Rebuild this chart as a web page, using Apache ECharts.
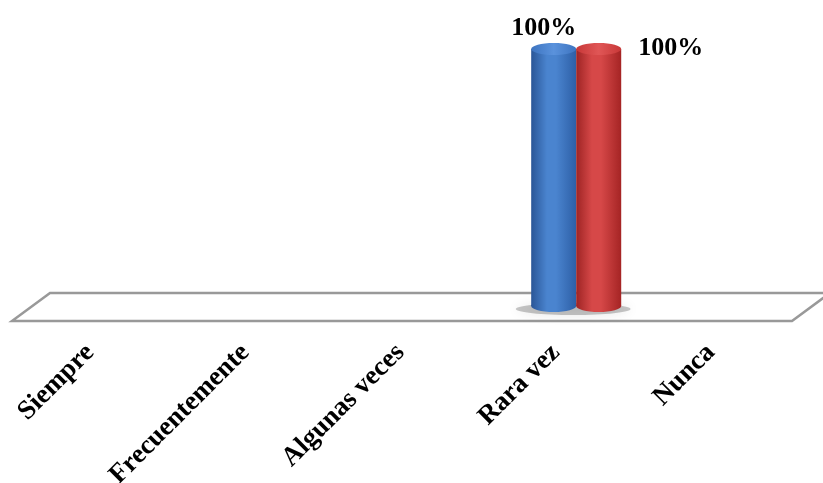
<!DOCTYPE html>
<html>
<head>
<meta charset="utf-8">
<script src="https://cdn.jsdelivr.net/npm/echarts@6/dist/echarts.min.js"></script>
<style>
  html, body { margin: 0; padding: 0; background: #fff; }
  #chart { width: 823px; height: 483px; }
</style>
</head>
<body>
<div id="chart"></div>
<script>
// Response categories and the share (%) of each group per category
const categorias = ['Siempre', 'Frecuentemente', 'Algunas veces', 'Rara vez', 'Nunca'];
const grupoA = [0, 0, 0, 100, 0];
const grupoB = [0, 0, 0, 100, 0];

const FONT = 'Liberation Serif, Times New Roman, serif';

const chart = echarts.init(document.getElementById('chart'), null, { renderer: 'canvas' });

// Cylinder renderer: body with horizontal shading, an elliptic cap and an elliptic base
function cylinder(colors, shift, labelDx, labelDy) {
  return function (params, api) {
    const v = api.value(1);
    if (!v) return null;
    const cat = api.value(0);
    const band = api.size([1, 0])[0];
    const base = api.coord([cat, 0]);
    const top = api.coord([cat, v]);
    const w = band * 0.29;
    const cx = base[0] + shift * band;
    const rx = w / 2, ry = 6;
    const body = new echarts.graphic.LinearGradient(0, 0, 1, 0, [
      { offset: 0, color: colors[0] },
      { offset: 0.35, color: colors[1] },
      { offset: 0.55, color: colors[1] },
      { offset: 1, color: colors[2] }
    ]);
    const cap = new echarts.graphic.LinearGradient(0, 0, 1, 0, [
      { offset: 0, color: colors[3] },
      { offset: 0.5, color: colors[4] },
      { offset: 1, color: colors[3] }
    ]);
    return {
      type: 'group',
      children: [
        { type: 'ellipse', shape: { cx: cx, cy: base[1], rx: rx, ry: ry }, style: { fill: body }, z2: 1 },
        { type: 'rect', shape: { x: cx - rx, y: top[1], width: w, height: base[1] - top[1] }, style: { fill: body }, z2: 2 },
        { type: 'ellipse', shape: { cx: cx, cy: top[1], rx: rx, ry: ry }, style: { fill: cap }, z2: 3 },
        {
          type: 'text', z2: 4,
          x: cx + labelDx, y: top[1] - ry + labelDy,
          style: {
            text: v + '%', fill: '#000', align: 'center', verticalAlign: 'middle',
            fontFamily: FONT, fontWeight: 'bold', fontSize: 26
          }
        }
      ]
    };
  };
}

// Soft floor shadow under each pair of cylinders
function shadow(params, api) {
  const a = api.value(1), b = api.value(2);
  if (!a && !b) return null;
  const cat = api.value(0);
  const band = api.size([1, 0])[0];
  const base = api.coord([cat, 0]);
  return {
    type: 'ellipse',
    shape: { cx: base[0] - 3, cy: base[1] + 3, rx: band * 0.37, ry: 6 },
    style: {
      fill: 'rgba(0,0,0,0.22)',
      shadowBlur: 12,
      shadowColor: 'rgba(0,0,0,0.45)'
    }
  };
}

const option = {
  backgroundColor: '#fff',
  animation: false,
  grid: { left: 33, right: 14, top: 49, bottom: 177, outerBoundsMode: 'none', containLabel: false },
  xAxis: {
    type: 'category',
    data: categorias,
    axisLine: { show: false },
    axisTick: { show: false },
    splitLine: { show: false },
    axisLabel: {
      interval: 0,
      rotate: 45,
      margin: 22,
      padding: [0, 29, 0, 0],
      color: '#000',
      fontFamily: FONT,
      fontWeight: 'bold',
      fontSize: 27
    }
  },
  yAxis: { type: 'value', min: 0, max: 100, show: false },
  graphic: [{
    type: 'polygon',
    z: 0,
    shape: { points: [[12, 321], [50, 293], [830, 293], [792, 321]] },
    style: { fill: '#fff', stroke: '#999', lineWidth: 2.5 }
  }],
  series: [
    {
      type: 'custom', name: 'sombra', z: 3,
      renderItem: shadow,
      data: categorias.map((c, i) => [i, grupoA[i], grupoB[i]])
    },
    {
      type: 'custom', name: 'Grupo A', z: 4,
      renderItem: cylinder(['#2a5697', '#4a84cf', '#2d5fa6', '#3d74c0', '#5a92dc'], -0.145, -10, -15),
      data: grupoA.map((v, i) => [i, v])
    },
    {
      type: 'custom', name: 'Grupo B', z: 5,
      renderItem: cylinder(['#9e2424', '#d64848', '#a52424', '#c83838', '#e05656'], 0.145, 72, 5),
      data: grupoB.map((v, i) => [i, v])
    }
  ]
};

chart.setOption(option);
</script>
</body>
</html>
